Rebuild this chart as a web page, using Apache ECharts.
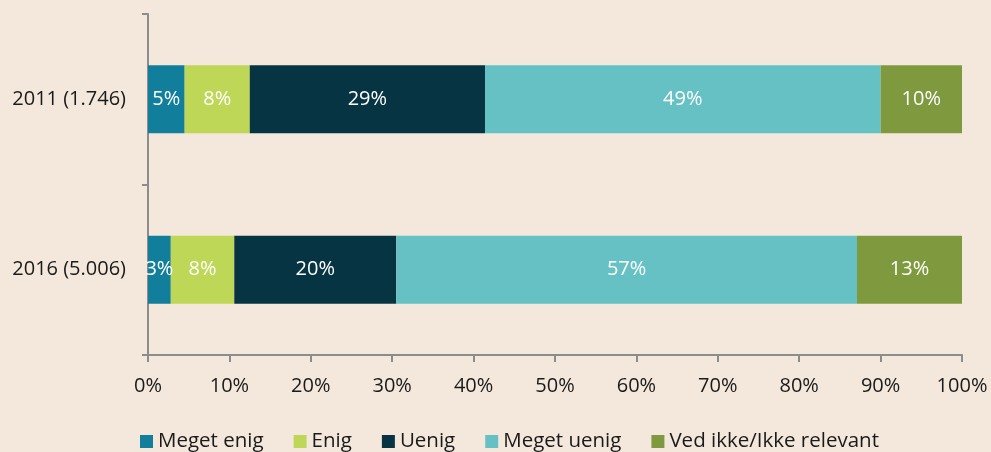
<!DOCTYPE html>
<html>
<head>
<meta charset="utf-8">
<script src="https://cdn.jsdelivr.net/npm/echarts@6/dist/echarts.min.js"></script>
<style>
  html, body { margin: 0; padding: 0; background: #f4e8dc; }
  #chart { width: 991px; height: 452px; }
</style>
</head>
<body>
<div id="chart"></div>
<script>
// kategorier (år og antal svar)
const categories = ['2011 (1.746)', '2016 (5.006)'];
const seriesNames = ['Meget enig', 'Enig', 'Uenig', 'Meget uenig', 'Ved ikke/Ikke relevant'];
const colors = ['#117f9b', '#bfd757', '#073442', '#66c1c4', '#7f9a3e'];
// andele i procent
const megetEnig = [4.5, 2.8];
const enig = [8.0, 7.8];
const uenig = [28.9, 19.9];
const megetUenig = [48.6, 56.6];
const vedIkke = [10.0, 12.9];
const xTicks = [0, 10, 20, 30, 40, 50, 60, 70, 80, 90, 100];

const allValues = [megetEnig, enig, uenig, megetUenig, vedIkke];
const font = 'Open Sans';

const chart = echarts.init(document.getElementById('chart'));
chart.setOption({
  backgroundColor: '#f4e8dc',
  textStyle: { fontFamily: font },
  grid: { left: 148, right: 29, top: 14, bottom: 97 },
  legend: {
    bottom: 0,
    left: 140,
    padding: 0,
    itemWidth: 13,
    itemHeight: 13,
    itemGap: 30,
    icon: 'rect',
    textStyle: { fontSize: 20.5, color: '#1a1a1a', fontFamily: font },
    data: seriesNames
  },
  xAxis: {
    type: 'value',
    min: xTicks[0],
    max: xTicks[xTicks.length - 1],
    interval: 10,
    axisLine: { show: true, lineStyle: { color: '#8c8c8c', width: 2 } },
    axisTick: { show: true, length: 7, lineStyle: { color: '#8c8c8c', width: 2 } },
    splitLine: { show: false },
    axisLabel: { formatter: '{value}%', fontSize: 20, color: '#1a1a1a', margin: 21 }
  },
  yAxis: {
    type: 'category',
    inverse: true,
    data: categories,
    axisLine: { show: true, lineStyle: { color: '#8c8c8c', width: 2 } },
    axisTick: { show: true, length: 6, lineStyle: { color: '#8c8c8c', width: 2 } },
    axisLabel: { fontSize: 20, color: '#1a1a1a', margin: 22 }
  },
  series: seriesNames.map((name, i) => ({
    name: name,
    type: 'bar',
    stack: 'total',
    barWidth: '40%',
    data: allValues[i],
    itemStyle: { color: colors[i] },
    label: {
      show: true,
      position: 'inside',
      color: '#ffffff',
      fontSize: 20,
      formatter: p => Math.round(p.value) + '%'
    }
  }))
});
</script>
</body>
</html>
